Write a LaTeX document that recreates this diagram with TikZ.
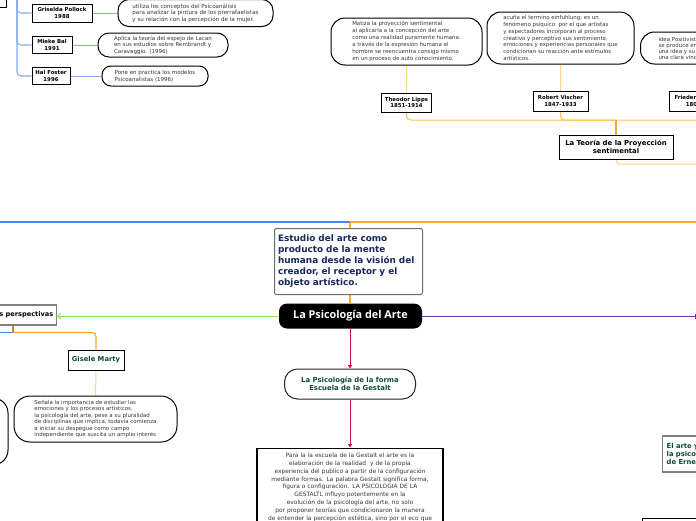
\documentclass[tikz,border=0pt]{standalone}
\usepackage{fontspec}
\setmainfont{DejaVu Sans}
\newfontfamily\titlefont{Open Sans}
\usetikzlibrary{arrows.meta,calc}
\pgfdeclarelayer{bottom}
\pgfdeclarelayer{links}
\pgfsetlayers{bottom,links,main}
\definecolor{cblue}{RGB}{66,133,244}
\definecolor{lblue}{RGB}{135,172,240}
\definecolor{corange}{RGB}{255,167,38}
\definecolor{morange}{RGB}{255,190,90}
\definecolor{lorange}{RGB}{255,212,140}
\definecolor{brownish}{RGB}{200,130,60}
\definecolor{cgreen}{RGB}{140,225,90}
\definecolor{cpurple}{RGB}{110,50,160}
\definecolor{cred}{RGB}{200,20,60}
\definecolor{dgreen}{RGB}{15,75,55}
\definecolor{navy}{RGB}{25,40,90}
\definecolor{dtext}{RGB}{55,55,55}
\newcommand\fsz[2]{\fontsize{#1}{#2}\selectfont}
\tikzset{
  namebox/.style={draw=black, line width=1pt, fill=white, align=center, inner sep=0pt, font=\bfseries\fsz{5.4}{6.3}},
  pill/.style={draw=black, line width=1pt, fill=white, align=left, inner sep=0pt, text=dtext},
  graybox/.style={draw=gray, line width=1.4pt, fill=white},
}
\begin{document}
\begin{tikzpicture}[x=1pt,y=-1pt]
\useasboundingbox (0,0) rectangle (696,520);
\clip (0,0) rectangle (696,520);
\begin{pgfonlayer}{bottom}
\fill[white] (0,0) rectangle (696,520);
\end{pgfonlayer}

% ---------- coordinates for free ends
\coordinate (tlroot) at (17,-8);
\coordinate (tjunc) at (616,120);
\coordinate (troot) at (710,164);
\coordinate (ctop) at (350,222);
\coordinate (cleft) at (-5,222);
\coordinate (cright) at (705,222);
\coordinate (pend) at (695.5,316);
\coordinate (pj) at (13,332.5);
\coordinate (pleft) at (-5,332.5);

% ---------- top-left cluster
\node[draw=black, line width=1pt, fill=white, minimum width=40, minimum height=20, anchor=south east] (tlbox) at (7,8) {};
\node[namebox, minimum width=60, minimum height=18] (griselda) at (62,13) {Griselda Pollock\\1988};
\node[namebox, minimum width=40, minimum height=17] (mieke) at (52,45) {Mieke Bal\\1991};
\node[namebox, minimum width=38, minimum height=17] (hal) at (51,76) {Hal Foster\\1996};
\node[pill, rounded corners=11, minimum width=155, minimum height=27, font=\fsz{5.6}{6.6}] (gdesc) at (195.5,13) {utiliza los conceptos del Psicoanálisis\\para analizar la pintura de los prerrafaelistas\\y su relación con la percepción de la mujer.};
\node[pill, rounded corners=11, minimum width=130, minimum height=24, font=\fsz{5.5}{6.6}] (mdesc) at (163,45) {Aplica la teoría del espejo de Lacan\\en sus estudios sobre Rembrandt y\\Caravaggio. (1996)};
\node[pill, rounded corners=9, minimum width=106, minimum height=20, font=\fsz{5.5}{6.6}] (hdesc) at (155,76) {Pone en practica los modelos\\Psicoanalistas (1996)};

% ---------- projection theory cluster
\node[pill, rounded corners=14, minimum width=151, minimum height=47, font=\fsz{5.45}{6.9}] (lippsdesc) at (406.5,41.5) {Matiza la proyección sentimental\\al aplicarla a la concepción del arte\\como una realidad puramente humana.\\a través de la expresión humana el\\hombre se reencuentra consigo mismo\\en un proceso de auto conocimiento.};
\node[pill, rounded corners=14, minimum width=147, minimum height=52, font=\fsz{5.45}{6.7}] (vischdesc) at (560.5,38) {acuña el termino einfuhlung; es un\\fenómeno psíquico\ \ por el que artistas\\y espectadores incorporan al proceso\\creativo y perceptivo sus sentimiento,\\emociones y experiencias personales que\\condicionan su reacción ante estímulos\\artísticos.};
\node[pill, rounded corners=14, minimum height=32, inner xsep=18pt, anchor=west, font=\fsz{5.45}{6}] (friedesc) at (640,48) {idea Positivista de la empatía:\\se produce entre el sujeto y\\una idea y su forma sensible,\\una clara vinculación.};
\node[namebox, minimum width=50, minimum height=19] (lipps) at (406.5,102.5) {Theodor Lipps\\1851-1914};
\node[namebox, minimum width=55, minimum height=20] (vischer) at (560.5,101) {Robert Vischer\\1847-1933};
\node[namebox, minimum height=20, inner xsep=5pt, anchor=west] (friedrich) at (669,101) {Friederich Vischer\\1807-1887};
\node[namebox, font=\bfseries\fsz{6.9}{8.3}, minimum width=114, minimum height=24] (teoria) at (616,147) {La Teoría de la Proyección\\sentimental};

% ---------- centre
\node[draw=gray!85!black, line width=1pt, rounded corners=2, fill=white, text=navy, font=\bfseries\fsz{8.9}{11}, align=left, text width=141, inner xsep=3.5pt, inner ysep=2pt, minimum height=66, anchor=north west] (estudio) at (274,228) {Estudio del arte como\\producto de la mente\\humana desde la visión del\\creador, el receptor y el\\objeto artístico.};
\node[fill=black, rounded corners=8, text=white, font=\titlefont\bfseries\fsz{10.8}{12}, minimum width=143, minimum height=25, inner sep=0pt] (main) at (350.5,316) {La Psicología del Arte};
\node[pill, draw=black!85, rounded corners=13, align=center, text=dgreen, font=\bfseries\fsz{6.9}{8.3}, minimum width=131, minimum height=30] (forma) at (350,384) {La Psicología de la forma\\Escuela de la Gestalt};
\node[draw=black, line width=1.4pt, fill=white, align=center, text=dtext, font=\fsz{5.9}{7.8}, text width=180, inner xsep=3pt, inner ysep=5pt, anchor=north] (gestalt) at (350,447.5) {Para la la escuela de la Gestalt el arte es la\\elaboración de la realidad\ \ y de la propia\\experiencia del publico a partir de la configuración\\mediante formas. La palabra Gestalt significa forma,\\figura o configuración. LA PSICOLOGIA DE LA\\GESTALTL influyo potentemente en la\\evolución de la psicología del arte, no solo\\por proponer teorías que condicionaron la manera\\de entender la percepción estética, sino por el eco que\\ \mbox{}\\ \mbox{}\\ \mbox{}};

% ---------- left cluster
\node[graybox, font=\bfseries\fsz{6.6}{8}, anchor=east, inner xsep=3pt, inner ysep=0pt, minimum height=20] (persp) at (57,315) {Otras perspectivas};
\node[namebox, text=dgreen, font=\bfseries\fsz{6.8}{8}, minimum width=56, minimum height=20] (gisele) at (96,360) {Gisele Marty};
\node[pill, rounded corners=16, minimum width=163, minimum height=46, font=\fsz{5.45}{6.4}] (gisdesc) at (95.5,419) {Señala la importancia de estudiar las\\emociones y los procesos artísticos.\\la psicología del arte, pese a su pluralidad\\de disciplinas que implica, todavía comienza\\a iniciar su despegue como campo\\independiente que suscita un amplio interés};
\node[pill, rounded corners=15, minimum width=120, minimum height=67] (leftpill) at (-52,431.5) {};

% ---------- right side
\node[graybox, text=dgreen, font=\bfseries\fsz{6.8}{8.3}, align=left, anchor=west, inner xsep=4pt, minimum height=36] (elarte) at (662,454) {El arte y la ilusión, estudio\\la psicología de la representación\\de Ernest Gombrich};
\node[draw=black, line width=1pt, fill=white, minimum width=100, minimum height=30, anchor=north west] (brbox) at (642,518) {};

% ---------- connectors (behind the boxes)
\begin{pgfonlayer}{links}
\draw[lblue, line width=1.1pt, rounded corners=4] (tlroot) |- (griselda.west);
\draw[lblue, line width=1.1pt, rounded corners=4] (tlroot) |- (mieke.west);
\draw[lblue, line width=1.1pt, rounded corners=4] (tlroot) |- (hal.west);
\draw[lblue, line width=0.8pt] (griselda.east) -- (gdesc.west);
\draw[lblue, line width=0.8pt] (mieke.east) -- (mdesc.west);
\draw[lblue, line width=0.8pt] (hal.east) -- (hdesc.west);

\draw[lorange, line width=1pt] (lippsdesc.south) -- (lipps.north);
\draw[lorange, line width=1pt] (vischdesc.south) -- (vischer.north);
\draw[morange, line width=1pt, rounded corners=4] (lipps.south) |- (tjunc);
\draw[morange, line width=1pt, rounded corners=4] (vischer.south) |- (tjunc);
\draw[morange, line width=1pt, rounded corners=4] (friedrich.south) |- (tjunc);
\draw[corange, line width=1.2pt] (tjunc) -- (teoria.north);
\draw[lorange, line width=1pt, rounded corners=4] (teoria.south) |- (troot);

\draw[cblue, line width=1.3pt] (ctop) -- (cleft);
\draw[corange, line width=1.3pt] (ctop) -- (cright);
\draw[corange, line width=1.2pt] (main.north -| ctop) -- (ctop);

\draw[cred, line width=1pt, -{Triangle[length=3.5pt,width=4pt]}] (main.south -| forma.north) -- (forma.north);
\draw[cred, line width=1pt, -{Triangle[length=3.5pt,width=4pt]}] (forma.south) -- (gestalt.north);

\draw[cgreen, line width=1pt, -{Straight Barb[length=3pt,width=6pt]}] (main.west) -- (main.west -| persp.east);
\draw[cpurple, line width=1pt, -{Bar[width=5pt]}] (main.east) -- (pend);

\draw[brownish, line width=1.2pt] (persp.south -| pj) -- (pj);
\draw[cblue, line width=1.3pt] (pj) -- (pleft);
\draw[corange, line width=1.2pt, rounded corners=4] (pj) -| (gisele.north);
\draw[lorange, line width=1pt] (gisele.south) -- (gisdesc.north);
\end{pgfonlayer}
\end{tikzpicture}
\end{document}
